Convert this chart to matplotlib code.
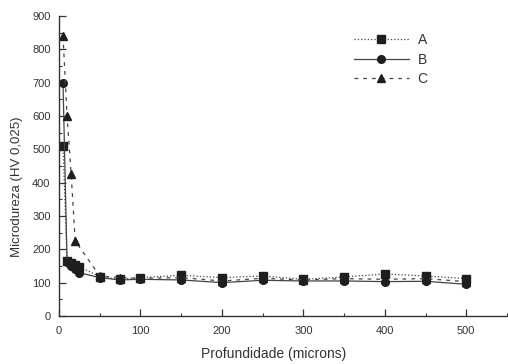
import matplotlib
matplotlib.use("Agg")
import matplotlib.pyplot as plt
from matplotlib.ticker import MultipleLocator

depth = [5, 10, 15, 20, 25, 50, 75, 100, 150, 200, 250, 300, 350, 400, 450, 500]
serie_a = [510, 165, 158, 152, 148, 118, 110, 115, 122, 115, 120, 110, 117, 126, 120, 112]
serie_b = [700, 162, 150, 140, 130, 115, 108, 110, 108, 100, 107, 105, 105, 103, 104, 95]

depth_c = [5, 10, 15, 20, 50, 75, 100, 150, 200, 250, 300, 350, 400, 450, 500]
serie_c = [840, 600, 425, 225, 120, 115, 113, 115, 105, 113, 108, 112, 110, 112, 103]

labels = ["A", "B", "C"]

plt.rcParams['font.family'] = ['Liberation Sans', 'DejaVu Sans']
fig = plt.figure(figsize=(5.08, 3.64), dpi=100)
ax = fig.add_axes([0.116, 0.132, 0.882, 0.824])

mk = dict(color="#444444", markerfacecolor="#1e1e1e", markeredgecolor="#1e1e1e", markersize=5.5)
ax.plot(depth, serie_a, linestyle=":", linewidth=0.9, marker="s", label=labels[0], **mk)
ax.plot(depth, serie_b, linestyle="-", linewidth=0.9, marker="o", label=labels[1], **mk)
ax.plot(depth_c, serie_c, linestyle=(0, (3, 4)), linewidth=0.9, marker="^", label=labels[2], **mk)

ax.set_xlim(0, 550)
ax.set_ylim(0, 900)
ax.xaxis.set_minor_locator(MultipleLocator(50))
ax.yaxis.set_major_locator(MultipleLocator(100))
ax.yaxis.set_minor_locator(MultipleLocator(50))
ax.set_xticks([0, 100, 200, 300, 400, 500])
ax.tick_params(which="both", direction="in", labelsize=8, colors="#333333")
ax.tick_params(which="major", length=5, width=0.9)
ax.tick_params(which="minor", length=2.5, width=0.8)
ax.tick_params(axis="x", pad=7)
ax.tick_params(axis="y", pad=6)
for s in ["top", "right"]:
    ax.spines[s].set_visible(False)
for s in ["left", "bottom"]:
    ax.spines[s].set_linewidth(1.0)
    ax.spines[s].set_color("#333333")

ax.set_xlabel("Profundidade (microns)", fontsize=10, color="#333333")
ax.xaxis.set_label_coords(0.48, -0.105)
ax.set_ylabel("Microdureza (HV 0,025)", fontsize=9.5, color="#333333")
ax.yaxis.set_label_coords(-0.08, 0.43)

leg = ax.legend(loc="upper left", bbox_to_anchor=(0.63, 0.985), frameon=False,
                fontsize=10, handlelength=4.0, handletextpad=0.6, labelspacing=0.4)
for t in leg.get_texts():
    t.set_color("#333333")

fig.savefig("out.png", dpi=100)
